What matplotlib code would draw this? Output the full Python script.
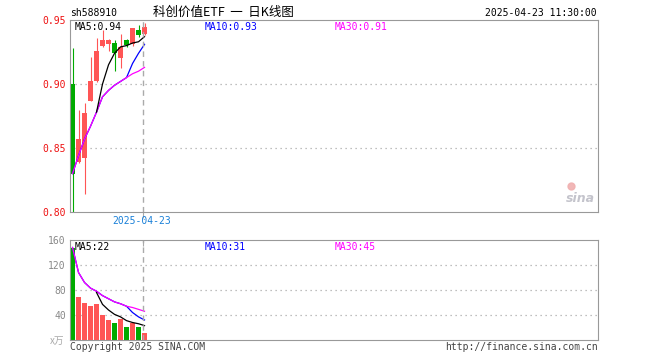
import numpy as np
import matplotlib
matplotlib.use("Agg")
import matplotlib.pyplot as plt

plt.rcParams['font.family'] = ['DejaVu Sans Mono', 'Noto Sans CJK SC']

# daily candles (13 trading days shown)
opens = [0.900, 0.839, 0.842, 0.887, 0.902, 0.930, 0.931, 0.932, 0.920, 0.9346, 0.931, 0.9425, 0.9393]
closes = [0.830, 0.857, 0.877, 0.902, 0.926, 0.9346, 0.934, 0.924, 0.929, 0.9307, 0.9435, 0.9383, 0.9443]
highs = [0.928, 0.880, 0.885, 0.921, 0.936, 0.9425, 0.935, 0.934, 0.939, 0.935, 0.944, 0.946, 0.948]
lows = [0.800, 0.838, 0.814, 0.887, 0.9016, 0.929, 0.926, 0.910, 0.9125, 0.929, 0.930, 0.937, 0.938]

nan = np.nan
ma5 = [nan, nan, nan, nan, 0.878, 0.900, 0.915, 0.924, 0.929, 0.930, 0.932, 0.933, 0.937]
ma10 = [0.830, 0.844, 0.857, 0.867, 0.878, 0.890, 0.895, 0.899, 0.902, 0.905, 0.916, 0.924, 0.931]
ma30 = [0.830, 0.844, 0.857, 0.867, 0.878, 0.890, 0.895, 0.899, 0.902, 0.905, 0.908, 0.910, 0.913]

# volume (x万)
volume = [148, 69, 60, 54, 58, 40, 32, 28, 34, 21, 27, 21, 12]
vma5 = [nan, nan, nan, nan, 76, 57, 48, 41, 37, 31, 28, 26, 23]
vma10 = [148, 108, 92, 83, 78, 71, 66, 61, 58, 54, 44, 37, 32]
vma30 = [148, 108, 92, 83, 78, 71, 66, 61, 58, 54, 52, 49, 46]

price_ticks = [0.80, 0.85, 0.90, 0.95]
vol_ticks = [40, 80, 120, 160]
date_label = '2025-04-23'

RED = '#ff5555'
GREEN = '#00aa00'
FRAME = '#999999'

W, H = 660, 360
fig = plt.figure(figsize=(W / 100, H / 100), dpi=100)


def px_axes(l, t, r, b):
    return fig.add_axes([l / W, 1 - b / H, (r - l) / W, (b - t) / H])


def ftext(x, y, s, **kw):
    fig.text(x / W, 1 - y / H, s, **kw)


x = np.arange(len(closes))
colors = [RED if c >= o else GREEN for o, c in zip(opens, closes)]
xlim = (-0.42, 87.58)
cursor = x[-1] - 0.25

# ---- price panel
ax = px_axes(70, 20, 598, 212)
ax.vlines(x, lows, highs, colors=colors, linewidth=0.8)
bottoms = np.minimum(opens, closes)
heights = np.abs(np.array(closes) - np.array(opens))
ax.bar(x, heights, bottom=bottoms, width=0.82, color=colors, linewidth=0)
ax.plot(x, ma10, color='#0000ff', linewidth=0.9)
ax.plot(x, ma30, color='#ff00ff', linewidth=0.9)
ax.plot(x, ma5, color='black', linewidth=0.9)
ax.axvline(cursor, color='#aaaaaa', linestyle=(0, (4, 3)), linewidth=1.0)
ax.set_xlim(*xlim)
ax.set_ylim(0.80, 0.95)
for v in [0.85, 0.90]:
    ax.axhline(v, color='#aaaaaa', linestyle=(0, (1, 3)), linewidth=0.9, zorder=0)
ax.set_yticks(price_ticks)
ax.set_yticklabels(['%.2f' % v for v in price_ticks], color='#ee1111', fontsize=7)
ax.set_xticks([cursor])
ax.set_xticklabels([''])
ax.tick_params(axis='y', length=0, pad=3)
ax.tick_params(axis='x', length=4, color='#aaaaaa', direction='out')
for s in ax.spines.values():
    s.set_color(FRAME)

# sina watermark
ax.text(0.995, 0.035, 'sina', transform=ax.transAxes, ha='right', va='bottom',
        fontsize=9, fontstyle='italic', fontweight='bold', color='#c4c4cc',
        family='DejaVu Sans')
ax.plot([0.948], [0.135], 'o', transform=ax.transAxes, color='#f0b0b0', markersize=5, alpha=0.9)

# ---- volume panel
bx = px_axes(70, 240, 598, 340)
bx.bar(x, volume, width=0.82, color=colors, linewidth=0)
bx.plot(x, vma10, color='#0000ff', linewidth=0.9)
bx.plot(x, vma30, color='#ff00ff', linewidth=0.9)
bx.plot(x, vma5, color='black', linewidth=0.9)
bx.axvline(cursor, color='#aaaaaa', linestyle=(0, (4, 3)), linewidth=1.0)
bx.set_xlim(*xlim)
bx.set_ylim(0, 160)
for v in [40, 80, 120]:
    bx.axhline(v, color='#aaaaaa', linestyle=(0, (1, 3)), linewidth=0.9, zorder=0)
bx.set_yticks(vol_ticks)
bx.set_yticklabels([str(v) for v in vol_ticks], color='#888888', fontsize=7)
bx.set_xticks([cursor])
bx.set_xticklabels([''])
bx.tick_params(axis='y', length=0, pad=3)
bx.tick_params(axis='x', length=4, color='#aaaaaa', direction='in', top=True, bottom=False)
for s in bx.spines.values():
    s.set_color(FRAME)

# ---- texts
ftext(70, 13, 'sh588910', fontsize=7, va='center', ha='left')
ftext(223, 12, '科创价值ETF  一  日K线图', fontsize=9, va='center', ha='center',
      family=['Noto Sans CJK SC', 'DejaVu Sans'])
ftext(597, 13, '2025-04-23 11:30:00', fontsize=7, va='center', ha='right')

ftext(75, 27, 'MA5:%.2f' % ma5[-1], fontsize=7, va='center', color='black')
ftext(205, 27, 'MA10:%.2f' % ma10[-1], fontsize=7, va='center', color='#0000ff')
ftext(335, 27, 'MA30:%.2f' % ma30[-1], fontsize=7, va='center', color='#ff00ff')

ftext(142, 221, date_label, fontsize=7, va='center', ha='center', color='#1a80d8')

ftext(75, 247, 'MA5:%d' % round(vma5[-1] - 1), fontsize=7, va='center', color='black')
ftext(205, 247, 'MA10:%d' % round(vma10[-1] - 1), fontsize=7, va='center', color='#0000ff')
ftext(335, 247, 'MA30:%d' % round(vma30[-1] - 1), fontsize=7, va='center', color='#ff00ff')

ftext(64, 341, 'x万', fontsize=7, va='center', ha='right', color='#aaaaaa',
      family=['Noto Sans CJK SC', 'DejaVu Sans'])
ftext(70, 347, 'Copyright 2025 SINA.COM', fontsize=7, va='center', ha='left', color='#444444')
ftext(598, 347, 'http://finance.sina.com.cn', fontsize=7, va='center', ha='right', color='#444444')

fig.savefig('out.png', dpi=100)
